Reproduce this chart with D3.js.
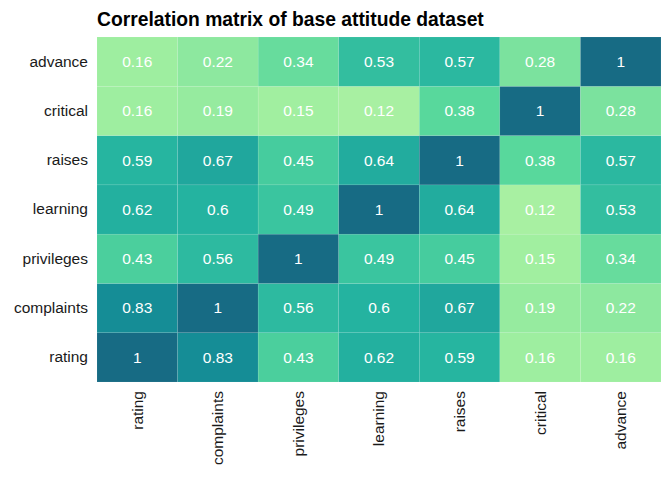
<!DOCTYPE html>
<html>
<head>
<meta charset="utf-8">
<script src="https://cdn.jsdelivr.net/npm/d3@7"></script>
<style>
body { margin: 0; background: #fff; }
text { font-family: "Liberation Sans", Arial, sans-serif; }
</style>
</head>
<body>
<script>
// variables
var vars = ["rating", "complaints", "privileges", "learning", "raises", "critical", "advance"];
var rating     = [1, 0.83, 0.43, 0.62, 0.59, 0.16, 0.16];
var complaints = [0.83, 1, 0.56, 0.6, 0.67, 0.19, 0.22];
var privileges = [0.43, 0.56, 1, 0.49, 0.45, 0.15, 0.34];
var learning   = [0.62, 0.6, 0.49, 1, 0.64, 0.12, 0.53];
var raises     = [0.59, 0.67, 0.45, 0.64, 1, 0.38, 0.57];
var critical   = [0.16, 0.19, 0.15, 0.12, 0.38, 1, 0.28];
var advance    = [0.16, 0.22, 0.34, 0.53, 0.57, 0.28, 1];
var rows = [rating, complaints, privileges, learning, raises, critical, advance];

var width = 672, height = 480;
var margin = {top: 37, right: 11, bottom: 98, left: 97};

var svg = d3.select("body").append("svg")
    .attr("width", width)
    .attr("height", height);

// build cells
var cells = [];
rows.forEach(function(r, i) {
    r.forEach(function(v, j) {
        cells.push({x: vars[j], y: vars[i], v: v});
    });
});

var x = d3.scaleBand().domain(vars).range([margin.left, width - margin.right]);
var y = d3.scaleBand().domain(vars).range([height - margin.bottom, margin.top]);

var color = d3.scaleLinear()
    .domain([0.12, 0.16, 0.38, 0.49, 0.6, 0.83, 1])
    .range(["#a8f0a2", "#9eeea0", "#58d89c", "#3ac59f", "#24b3a0", "#158d96", "#176b84"])
    .interpolate(d3.interpolateLab);

svg.append("g")
    .selectAll("rect")
    .data(cells)
    .enter().append("rect")
        .attr("x", function(d) { return x(d.x); })
        .attr("y", function(d) { return y(d.y); })
        .attr("width", x.bandwidth())
        .attr("height", y.bandwidth())
        .attr("fill", function(d) { return color(d.v); })
        .attr("stroke", "rgba(255,255,255,0.12)")
        .attr("stroke-width", 0.6);

svg.append("g")
    .selectAll("text")
    .data(cells)
    .enter().append("text")
        .attr("x", function(d) { return x(d.x) + x.bandwidth() / 2; })
        .attr("y", function(d) { return y(d.y) + y.bandwidth() / 2; })
        .attr("text-anchor", "middle")
        .attr("dy", "0.35em")
        .attr("fill", "#ffffff")
        .style("font-size", "15.5px")
        .text(function(d) { return d.v; });

// axes
var yAxis = svg.append("g")
    .attr("transform", "translate(" + margin.left + ",0)")
    .call(d3.axisLeft(y).tickSize(0).tickPadding(9));
yAxis.select(".domain").remove();
yAxis.selectAll("text").style("font-size", "15.5px").attr("fill", "#1a1a1a");

var xAxis = svg.append("g")
    .attr("transform", "translate(0," + (height - margin.bottom) + ")")
    .call(d3.axisBottom(x).tickSize(0));
xAxis.select(".domain").remove();
xAxis.selectAll("text")
    .style("font-size", "15.5px")
    .attr("fill", "#1a1a1a")
    .attr("text-anchor", "end")
    .attr("transform", "rotate(-90)")
    .attr("x", -9)
    .attr("y", 0)
    .attr("dy", "0.35em");

// title
svg.append("text")
    .attr("x", margin.left)
    .attr("y", 26)
    .style("font-size", "19.3px")
    .style("font-weight", "bold")
    .attr("fill", "#000")
    .text("Correlation matrix of base attitude dataset");
</script>
</body>
</html>
